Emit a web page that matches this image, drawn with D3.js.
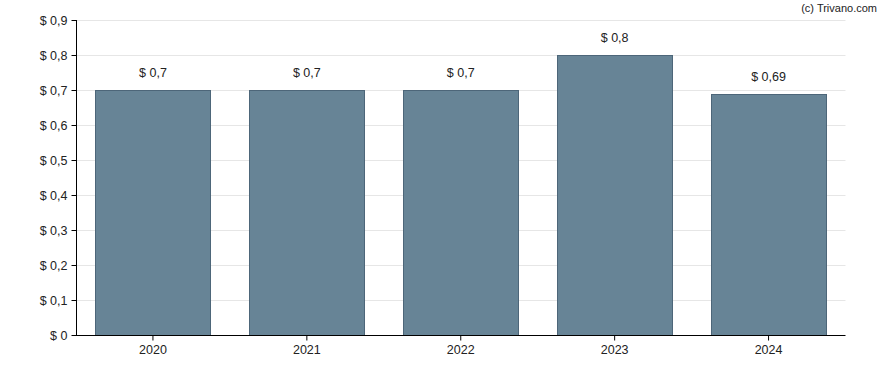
<!DOCTYPE html>
<html><head><meta charset="utf-8">
<script src="https://cdn.jsdelivr.net/npm/d3@7"></script>
<style>body{margin:0;background:#fff}svg{display:block;font-family:"Liberation Sans", Arial, sans-serif}</style>
</head><body>
<svg id="c" width="888" height="370"></svg>
<script>
const categories = ["2020","2021","2022","2023","2024"];
const values = [0.7, 0.7, 0.7, 0.8, 0.69];
const valueLabels = ["$ 0,7","$ 0,7","$ 0,7","$ 0,8","$ 0,69"];
const yTicks = [0,0.1,0.2,0.3,0.4,0.5,0.6,0.7,0.8,0.9];
const yTickLabels = ["$ 0","$ 0,1","$ 0,2","$ 0,3","$ 0,4","$ 0,5","$ 0,6","$ 0,7","$ 0,8","$ 0,9"];

const FONT = '"Liberation Sans", Arial, sans-serif';
const svg = d3.select("#c");
const mLeft = 76, mRight = 845.5, mTop = 20, mBottom = 335;
const x = d3.scaleBand().domain(categories).range([mLeft, mRight]).paddingInner(0.25).paddingOuter(0.125);
const y = d3.scaleLinear().domain([0, 0.9]).range([mBottom, mTop]);

// grid
svg.append("g").selectAll("line").data(yTicks.filter(d=>d>0)).join("line")
  .attr("x1", mLeft).attr("x2", mRight)
  .attr("y1", d=>Math.round(y(d))+0.5).attr("y2", d=>Math.round(y(d))+0.5)
  .attr("stroke", "#e6e6e6").attr("stroke-width", 1);

// bars
svg.append("g").selectAll("rect").data(values).join("rect")
  .attr("x", (d,i)=>Math.round(x(categories[i]))+0.5)
  .attr("y", d=>Math.round(y(d))+0.5)
  .attr("width", Math.floor(x.bandwidth()))
  .attr("height", d=>Math.round(y(0))-Math.round(y(d)))
  .attr("fill", "#678496").attr("stroke", "#4d6679").attr("stroke-width", 1);

// value labels
svg.append("g").selectAll("text").data(values).join("text")
  .attr("x", (d,i)=>x(categories[i])+x.bandwidth()/2)
  .attr("y", d=>y(d)-13)
  .attr("text-anchor","middle").attr("font-size", 12.5).attr("fill","#222")
  .attr("font-family", FONT)
  .text((d,i)=>valueLabels[i]);

// y axis
const yAxis = d3.axisLeft(y).tickValues(yTicks).tickSize(5).tickPadding(4)
  .tickFormat((d,i)=>yTickLabels[i]);
const ga = svg.append("g").attr("transform", `translate(${mLeft+0.5},0)`).call(yAxis);
ga.select(".domain").attr("stroke","#000").attr("d", `M0,${mTop}V${mBottom}`);
ga.selectAll("text").attr("font-size", 12.5).attr("fill","#222").attr("font-family", FONT);
ga.selectAll(".tick line").attr("stroke","#000");

// x axis
const xAxis = d3.axisBottom(x).tickSize(5).tickPadding(5);
const gx = svg.append("g").attr("transform", `translate(0,${mBottom+0.5})`).call(xAxis);
gx.select(".domain").attr("stroke","#000").attr("d", `M${mLeft},0H${mRight}`);
gx.selectAll("text").attr("font-size", 12.5).attr("fill","#222").attr("font-family", FONT);
gx.selectAll(".tick line").attr("stroke","#000");

svg.append("text").attr("x", 877).attr("y", 12).attr("text-anchor","end")
  .attr("font-family", FONT)
  .attr("font-size", 11).attr("fill","#222").text("(c) Trivano.com");
</script>
</body></html>
